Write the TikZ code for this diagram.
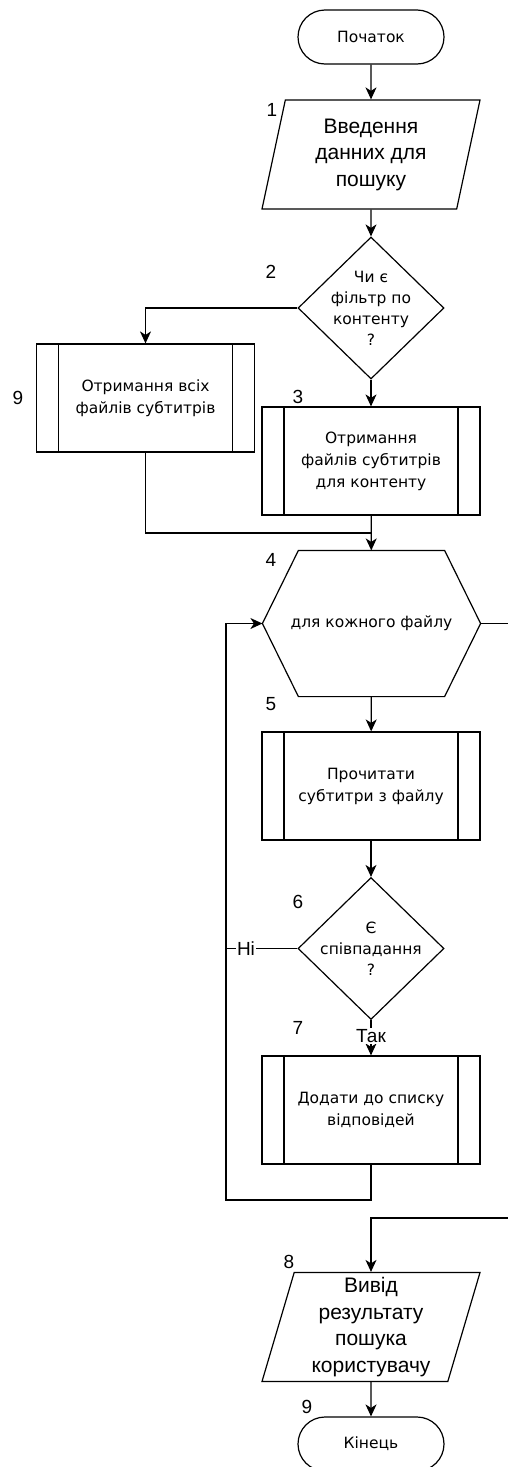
\documentclass[tikz,border=0pt]{standalone}
\usepackage{fontspec}
\setmainfont{Liberation Sans}
\newfontfamily\boxfont{DejaVu Sans}
\usetikzlibrary{shapes.geometric,arrows.meta}

\begin{document}
\begin{tikzpicture}[x=1pt,y=-1pt,>={Stealth[length=12pt,width=11pt,inset=3.5pt]},line width=1.2pt,
    term/.style={draw,rounded corners=27pt,minimum width=146pt,minimum height=54pt,font=\boxfont\fontsize{15.5}{20}\selectfont},
    io/.style={draw,trapezium,trapezium left angle=72,trapezium right angle=108,trapezium stretches body,minimum width=218pt,minimum height=109pt,inner sep=0pt,align=center,font=\fontsize{21}{26.5}\selectfont},
    decision/.style={draw,diamond,minimum width=146pt,minimum height=142pt,inner sep=-12pt,align=center,font=\boxfont\fontsize{15.5}{21}\selectfont},
    sub/.style={draw,minimum width=218pt,minimum height=108pt,align=center,font=\boxfont\fontsize{15.5}{22}\selectfont,
        path picture={\draw ([xshift=22pt]path picture bounding box.north west) -- ([xshift=22pt]path picture bounding box.south west)
            ([xshift=-22pt]path picture bounding box.north east) -- ([xshift=-22pt]path picture bounding box.south east);}},
    loopbox/.style={minimum width=217pt,minimum height=145pt,font=\boxfont\fontsize{15.5}{20}\selectfont},
    num/.style={inner sep=0pt,font=\fontsize{19}{19}\selectfont},
    answer/.style={fill=white,inner sep=1pt,font=\fontsize{19}{19}\selectfont},
    ]
    \useasboundingbox (0,0) rectangle (508,1467);
    \node[term] (start) at (371,37) {Початок};
    \node[io] (in1) at (371,154.5) {Введення\\данних для\\пошуку};
    \node[decision] (dec1) at (371,308) {Чи є\\фільтр по\\контенту\\?};
    \node[sub] (all) at (145.5,398) {Отримання всіх\\файлів субтитрів};
    \node[sub] (filt) at (371,461) {Отримання\\файлів субтитрів\\для контенту};
    \coordinate (join) at (371,533);
    \node[loopbox] (loop) at (371.5,623.5) {для кожного файлу};
    \coordinate (loopend) at (512,623.5);
    \node[sub] (read) at (371,786) {Прочитати\\субтитри з файлу};
    \node[decision] (dec2) at (371,948.5) {Є\\співпадання\\?};
    \coordinate (nojoin) at (226,948.5);
    \node[sub] (add) at (371,1110) {Додати до списку\\відповідей};
    \coordinate (back) at (226,1200);
    \coordinate (exit) at (512,1218);
    \node[io] (out) at (371,1327) {Вивід\\результату\\пошука\\користувачу};
    \node[term] (end) at (371,1444) {Кінець};

    \node[num] (n1) at (272,110) {1};
    \node[num] (n2) at (271,272) {2};
    \node[num] (n9a) at (18,398) {9};
    \node[num] (n3) at (298,397) {3};
    \node[num] (n4) at (271,560) {4};
    \node[num] (n5) at (271,704) {5};
    \node[num] (n6) at (298,902) {6};
    \node[num] (n7) at (298,1028) {7};
    \node[num] (n8) at (289,1262) {8};
    \node[num] (n9b) at (307,1407) {9};

    \draw ([xshift=36pt]loop.north west) -- ([xshift=-36pt]loop.north east) -- (loop.east)
        -- ([xshift=-36pt]loop.south east) -- ([xshift=36pt]loop.south west) -- (loop.west) -- cycle;

    \draw[->] (start) -- (in1);
    \draw[->] (in1) -- (dec1);
    \draw[->] (dec1) -| (all);
    \draw[->] (dec1) -- (filt);
    \draw (all) |- (join);
    \draw[->] (filt) -- (loop);
    \draw (loop) -- (loopend);
    \draw[->] (loop) -- (read);
    \draw[->] (read) -- (dec2);
    \draw (dec2) -- node[answer,pos=0.72] {Ні} (nojoin);
    \draw[->] (dec2) -- node[answer,pos=0.45] {Так} (add);
    \draw[->] (add) |- (back) |- (loop);
    \draw[->] (exit) -| (out);
    \draw[->] (out) -- (end);
\end{tikzpicture}
\end{document}
